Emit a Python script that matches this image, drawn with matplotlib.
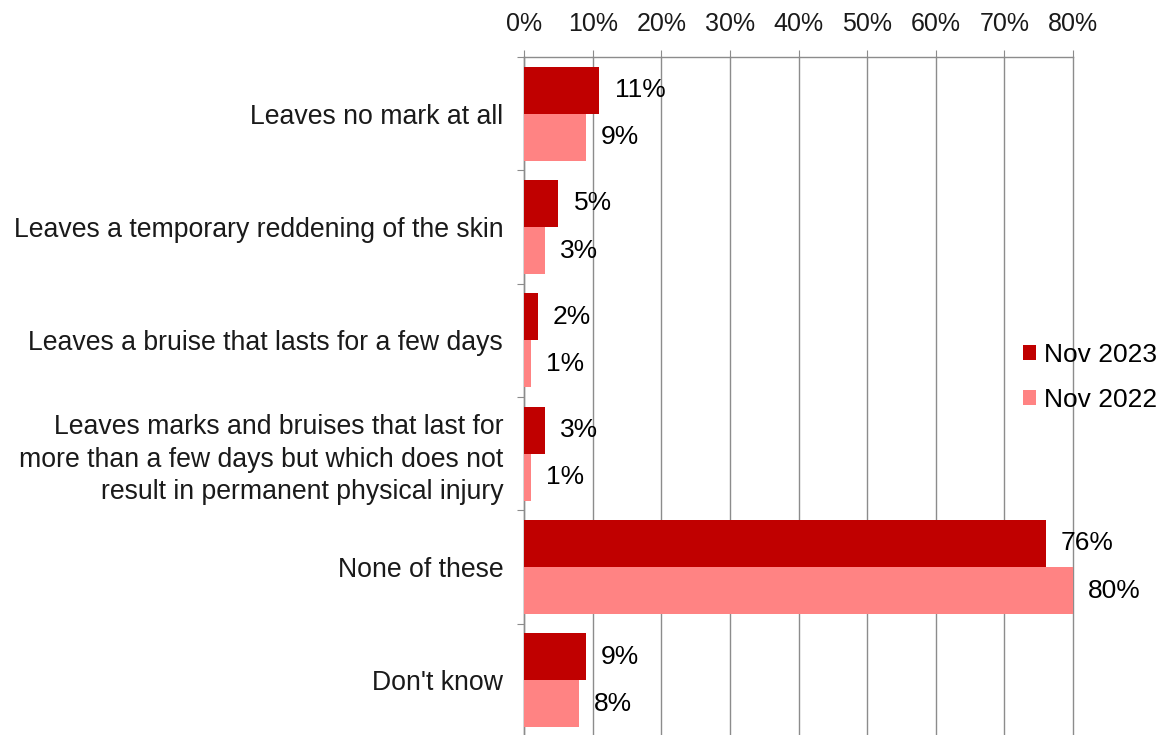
import matplotlib
matplotlib.use("Agg")
import matplotlib.pyplot as plt
import numpy as np

plt.rcParams['font.family'] = ['Liberation Sans', 'DejaVu Sans']

categories = [
    "Leaves no mark at all",
    "Leaves a temporary reddening of the skin",
    "Leaves a bruise that lasts for a few days",
    "Leaves marks and bruises that last for\nmore than a few days but which does not\nresult in permanent physical injury",
    "None of these",
    "Don't know",
]
nov_2023 = [11, 5, 2, 3, 76, 9]
nov_2022 = [9, 3, 1, 1, 80, 8]
series_names = ["Nov 2023", "Nov 2022"]
x_ticks = [0, 10, 20, 30, 40, 50, 60, 70, 80]

dark = "#C00000"
light = "#FF8383"
grid_col = "#8C8C8C"
txt_col = "#1A1A1A"

fig = plt.figure(figsize=(11.63, 7.35), dpi=100)
ax = fig.add_axes([524 / 1163, -2 / 735, (1073 - 524) / 1163, (735 - 57 + 2) / 735])

n = len(categories)
y = np.arange(n)
bh = 0.415
b1 = ax.barh(y - bh / 2, nov_2023, height=bh, color=dark, label=series_names[0], zorder=3)
b2 = ax.barh(y + bh / 2, nov_2022, height=bh, color=light, label=series_names[1], zorder=3)

for bars, vals in ((b1, nov_2023), (b2, nov_2022)):
    for rect, v in zip(bars, vals):
        ax.annotate(f"{v}%", (v, rect.get_y() + rect.get_height() / 2),
                    xytext=(11, 0), textcoords="offset points",
                    ha="left", va="center", fontsize=19, color="black", zorder=5)

ax.set_xlim(0, 80)
ax.set_ylim(n - 0.5, -0.5)
ax.set_xticks(x_ticks)
ax.set_xticklabels([f"{t}%" for t in x_ticks])
ax.xaxis.tick_top()
ax.tick_params(axis="x", direction="out", length=5, color=grid_col, labelsize=18,
               labelcolor=txt_col, pad=10)
ax.grid(axis="x", color=grid_col, linewidth=1.0, zorder=0)
for gl in ax.get_xgridlines():
    gl.set_clip_on(False)

# category separators on the left axis
ax.set_yticks(np.arange(n + 1) - 0.5)
ax.set_yticklabels([])
ax.tick_params(axis="y", direction="out", length=5, color=grid_col)
ax.set_yticks(y, minor=True)
ax.set_yticklabels(categories, minor=True, fontsize=19.2, color=txt_col,
                   linespacing=1.32)
ax.tick_params(axis="y", which="minor", length=0, pad=15)

for s in ("right", "bottom"):
    ax.spines[s].set_visible(False)
for s in ("top", "left"):
    ax.spines[s].set_color(grid_col)
    ax.spines[s].set_linewidth(1.0)

leg = ax.legend(loc="center left", bbox_to_anchor=(0.865, 0.529), frameon=False,
                fontsize=19, handlelength=0.5, handleheight=0.5, handletextpad=0.3,
                labelspacing=0.8)

fig.savefig("out.png", dpi=100)
